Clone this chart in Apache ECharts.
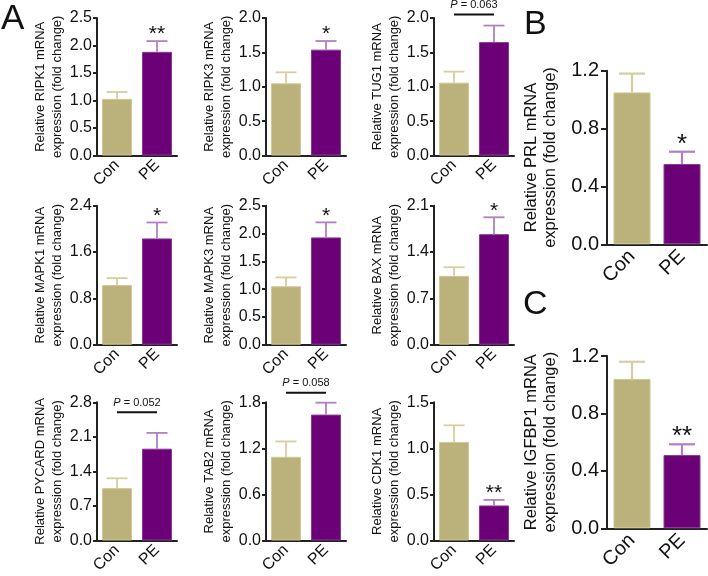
<!DOCTYPE html>
<html><head><meta charset="utf-8">
<script src="https://cdn.jsdelivr.net/npm/echarts@6/dist/echarts.min.js"></script>
<style>html,body{margin:0;padding:0;background:#fff}#c{width:708px;height:576px}</style>
</head><body><div id="c"></div>
<script>
// ---------- data ----------
const groups = ['Con', 'PE'];
const genes = ['RIPK1', 'RIPK3', 'TUG1', 'MAPK1', 'MAPK3', 'BAX', 'PYCARD', 'TAB2', 'CDK1', 'PRL', 'IGFBP1'];
const conMean = [1.03, 1.05, 1.06, 1.03, 1.05, 1.04, 1.06, 1.09, 1.07, 1.05, 1.04];
const conErrTop = [1.155, 1.21, 1.22, 1.15, 1.21, 1.17, 1.26, 1.29, 1.25, 1.18, 1.16];
const peMean = [1.885, 1.54, 1.65, 1.835, 1.93, 1.67, 1.86, 1.64, 0.38, 0.555, 0.51];
const peErrTop = [2.08, 1.665, 1.89, 2.11, 2.2, 1.925, 2.18, 1.795, 0.44, 0.64, 0.585];
const stars = ['**', '*', '', '*', '*', '*', '', '', '**', '*', '**'];
const pText = ['', '', '0.063', '', '', '', '0.052', '0.058', '', '', ''];
const pLevel = [null, null, 2.05, null, null, null, 2.6, 1.925, null, null, null];
const yMax = [2.5, 2.0, 2.0, 2.4, 2.5, 2.1, 2.8, 1.8, 1.5, 1.2, 1.2];
const yStep = [0.5, 0.5, 0.5, 0.8, 0.5, 0.7, 0.7, 0.6, 0.5, 0.4, 0.4];

// ---------- layout (positions / styles) ----------
const FONT = 'Liberation Sans, Arial, Helvetica, sans-serif';
const CON = '#bbb27b', CON_ERR = '#d6cea0', CON_BORDER = '#cfc795';
const PE = '#6b0077', PE_ERR = '#b17fc2', PE_BORDER = '#8a3a96';
const cols = [97, 266, 434];
const rows = [[18, 137.5], [205.7, 139], [402.3, 138.3]];
const layout = [];
for (let r = 0; r < 3; r++) for (let c = 0; c < 3; c++)
  layout.push({left: cols[c], top: rows[r][0], width: 80, height: rows[r][1], big: false});
layout.push({left: 607, top: 70.7, width: 100, height: 173.6, big: true});
layout.push({left: 607, top: 356, width: 100, height: 172.3, big: true});

const grids = [], xAxes = [], yAxes = [], series = [];
genes.forEach((g, i) => {
  const L = layout[i], big = L.big;
  const barW = big ? 37 : 30;
  grids.push({left: L.left, top: L.top, width: L.width, height: L.height, containLabel: false});
  xAxes.push({
    type: 'category', gridIndex: i, data: groups,
    axisLine: {lineStyle: {color: '#222', width: 2}},
    axisTick: {alignWithLabel: true, length: big ? 6 : 4, lineStyle: {width: 2, color: '#222'}},
    axisLabel: {show: true, rotate: 45, interval: 0, margin: big ? 9 : 7,
      fontSize: big ? 20 : 16, fontFamily: FONT, color: '#111'}
  });
  yAxes.push({
    type: 'value', gridIndex: i, min: 0, max: yMax[i], interval: yStep[i],
    name: 'Relative ' + g + ' mRNA\nexpression (fold change)',
    nameLocation: 'middle', nameGap: big ? 47 : 30,
    nameTextStyle: {fontSize: big ? 16.5 : 13, lineHeight: big ? 19 : 16.7, color: '#111', fontFamily: FONT},
    axisLine: {show: true, lineStyle: {color: '#222', width: 2}},
    axisTick: {show: true, length: big ? 6 : 4, lineStyle: {width: 2, color: '#222'}},
    splitLine: {show: false},
    axisLabel: {color: '#111', fontSize: big ? 20 : 16, fontFamily: FONT, margin: big ? 8 : 5,
      formatter: v => v.toFixed(1)}
  });
  series.push({
    type: 'bar', xAxisIndex: i, yAxisIndex: i, barWidth: barW, silent: true,
    data: [
      {value: conMean[i], itemStyle: {color: CON, borderColor: CON_BORDER, borderWidth: 1}},
      {value: peMean[i], itemStyle: {color: PE, borderColor: PE_BORDER, borderWidth: 1}}
    ]
  });
  const capW = big ? 26 : 21;
  const star = stars[i];
  series.push({
    type: 'custom', xAxisIndex: i, yAxisIndex: i, silent: true, z: 5,
    data: [[0, conMean[i], conErrTop[i]], [1, peMean[i], peErrTop[i]]],
    encode: {x: 0, y: [1, 2]},
    renderItem: (params, api) => {
      const idx = api.value(0);
      const a = api.coord([idx, api.value(1)]);
      const b = api.coord([idx, api.value(2)]);
      const col = idx === 0 ? CON_ERR : PE_ERR;
      const lw = big ? 2.2 : 1.8;
      const children = [
        {type: 'line', shape: {x1: a[0], y1: a[1], x2: b[0], y2: b[1]}, style: {stroke: col, lineWidth: lw}},
        {type: 'line', shape: {x1: b[0] - capW / 2, y1: b[1], x2: b[0] + capW / 2, y2: b[1]}, style: {stroke: col, lineWidth: lw}}
      ];
      if (idx === 1 && star) {
        children.push({type: 'text', style: {text: star, x: b[0], y: b[1] + (big ? 6 : 4), align: 'center', verticalAlign: 'bottom',
          fontSize: big ? 26 : 21, fontFamily: FONT, fill: '#111'}});
      }
      return {type: 'group', children};
    }
  });
  if (pText[i]) {
    series.push({
      type: 'custom', xAxisIndex: i, yAxisIndex: i, silent: true, z: 6,
      data: [[0, pLevel[i]]],
      renderItem: (params, api) => {
        const a = api.coord([0, api.value(1)]);
        const b = api.coord([1, api.value(1)]);
        return {type: 'group', children: [
          {type: 'line', shape: {x1: a[0], y1: a[1], x2: b[0], y2: b[1]}, style: {stroke: '#111', lineWidth: 2}},
          {type: 'text', style: {text: '{i|P} = ' + pText[i], x: (a[0] + b[0]) / 2, y: a[1] - 4, align: 'center', verticalAlign: 'bottom',
            fontSize: 11, fontFamily: FONT, fill: '#111', rich: {i: {fontStyle: 'italic', fontSize: 11, fontFamily: FONT, fill: '#111'}}}}
        ]};
      }
    });
  }
});

const chart = echarts.init(document.getElementById('c'), null, {renderer: 'canvas'});
chart.setOption({
  animation: false,
  backgroundColor: '#fff',
  grid: grids, xAxis: xAxes, yAxis: yAxes, series,
  graphic: [
    {type: 'text', left: 1, top: 2, style: {text: 'A', fontSize: 35, fontFamily: FONT, fill: '#111'}},
    {type: 'text', left: 524, top: 8, style: {text: 'B', fontSize: 34, fontFamily: FONT, fill: '#111'}},
    {type: 'text', left: 523, top: 288, style: {text: 'C', fontSize: 34, fontFamily: FONT, fill: '#111'}}
  ]
});
</script></body></html>
